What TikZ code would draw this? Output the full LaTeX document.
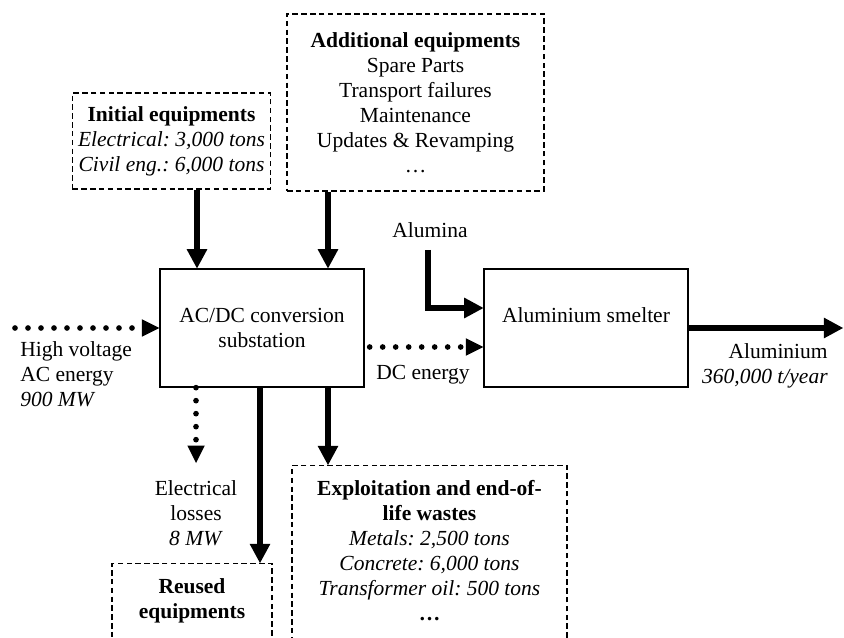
\documentclass[tikz,border=0pt]{standalone}
\usepackage{fontspec}
\setmainfont{Liberation Serif}
\usetikzlibrary{arrows.meta}
\tikzset{
	flow/.style={line width=3.9pt, -{Triangle[length=11.5pt,width=12.5pt,line width=0pt]}},
	dotflow/.style={line width=3.4pt, line cap=round, dash pattern=on 0pt off 7.8pt, -{Triangle[length=10.5pt,width=10.5pt,line width=0pt]}},
	dashbox/.style={draw, line width=0.75pt, dash pattern=on 3.3pt off 2pt, align=center},
	procbox/.style={draw, line width=0.8pt, align=center, minimum width=122.4pt, minimum height=70.8pt},
	txt/.style={inner sep=0pt},
}

\begin{document}
\begin{tikzpicture}[x=0.6pt,y=-0.6pt,font=\fontsize{12.9}{15}\selectfont\frenchspacing]
			%%%%% START %%%%%
			\useasboundingbox (0,0) rectangle (844,638);
			\clip (0,0) rectangle (844,638);
			
			\node[dashbox, minimum width=91.8pt, minimum height=57.6pt] (initial) at (171.5,141) {\textbf{Initial equipments}\\\textit{Electrical: 3,000 tons}\\\textit{Civil eng.: 6,000 tons}};
			\node[dashbox, minimum width=154.2pt, minimum height=106.2pt] (additional) at (415.5,102.5) {\textbf{Additional equipments}\\Spare Parts\\Transport failures\\Maintenance\\Updates \& Revamping\\…};
			
			\node[procbox] (acdc) at (262,328) {AC/DC conversion\\substation};
			\node[procbox, text depth=15pt] (smelter) at (586,328) {Aluminium smelter};
			
			\node[dashbox, anchor=north, minimum width=96pt, minimum height=85pt] (reused) at (192,563) {};
			\node[txt, anchor=north, align=center] (reusedlbl) at (192,578) {\textbf{Reused}\\\textbf{equipments}};
			
			\node[dashbox, anchor=north, minimum width=165pt, minimum height=145pt] (wastes) at (429.5,465) {};
			\node[txt, anchor=north, align=center] (wasteslbl) at (429.5,480) {\textbf{Exploitation and end-of-}\\\textbf{life wastes}\\\textit{Metals: 2,500 tons}\\\textit{Concrete: 6,000 tons}\\\textit{Transformer oil: 500 tons}\\\textbf{…}};
			
			\node[txt, anchor=north west, align=left] (hvlbl) at (20,341) {High voltage\\AC energy\\\textit{900 MW}};
			\node[txt, anchor=north, align=center] (losslbl) at (196,480) {Electrical\\losses\\\textit{8 MW}};
			\node[txt, anchor=base] (aluminalbl) at (430,238) {Alumina};
			\node[txt, anchor=base] (dclbl) at (423,380) {DC energy};
			\node[txt, anchor=north east, align=right] (outlbl) at (828,343) {Aluminium\\\textit{360,000 t/year}};
			
			\coordinate (colA) at (197,0);
			\coordinate (colB) at (328,0);
			\coordinate (colC) at (260,0);
			\coordinate (colL) at (196,0);
			\coordinate (hvstart) at (15,328);
			\coordinate (lossend) at (196,463);
			\coordinate (alstart) at (428,250);
			\coordinate (alrow) at (0,308);
			\coordinate (dcrow) at (0,347);
			\coordinate (outend) at (843,328);
			
			\draw[flow] (colA |- initial.south) -- (colA |- acdc.north);
			\draw[flow] (colB |- additional.south) -- (colB |- acdc.north);
			\draw[dotflow] (hvstart) -- (acdc.west);
			\draw[dotflow, shorten <=3pt] (dcrow -| acdc.east) -- (dcrow -| smelter.west);
			\draw[flow] (alstart) |- (alrow -| smelter.west);
			\draw[flow] (smelter.east) -- (outend);
			\draw[dotflow] (colL |- acdc.south) -- (lossend);
			\draw[flow] (colC |- acdc.south) -- (colC |- reused.north);
			\draw[flow] (colB |- acdc.south) -- (colB |- wastes.north);
			
			%%%%% END %%%%%
\end{tikzpicture}
\end{document}
